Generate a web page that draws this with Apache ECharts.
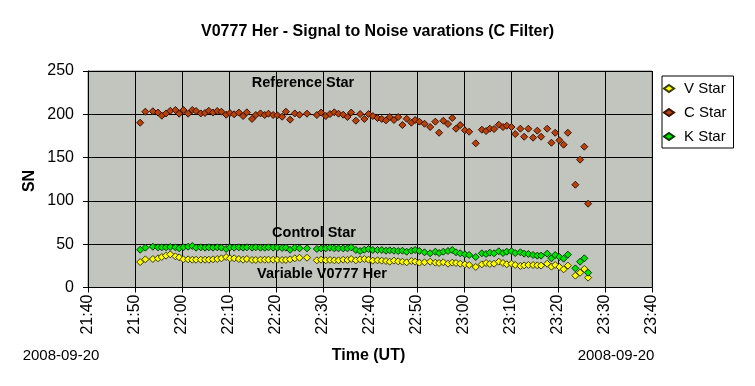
<!DOCTYPE html>
<html><head><meta charset="utf-8">
<script src="https://cdn.jsdelivr.net/npm/echarts@6/dist/echarts.min.js"></script>
<style>html,body{margin:0;padding:0;background:#fff}#c{width:755px;height:386px}</style>
</head><body><div id="c"></div>
<script>
// Observation times in minutes after 00:00 UT (2008-09-20)
const obsMinutes = [
  1311.1, 1312.2, 1313.8, 1314.9, 1315.7, 1316.6, 1317.5, 1318.6, 1319.4, 1320.3,
  1321.3, 1322.2, 1323.0, 1324.0, 1324.9, 1325.7, 1326.6, 1327.5, 1328.4, 1329.4,
  1330.2, 1331.1, 1332.1, 1333.0, 1333.8, 1334.9, 1335.7, 1336.7, 1337.6, 1338.4,
  1339.4, 1340.3, 1341.3, 1342.1, 1343.0, 1344.0, 1345.0, 1346.6,
  1348.7, 1349.6, 1350.6, 1351.5, 1352.4, 1353.3, 1354.3, 1355.2, 1356.0, 1357.0,
  1357.9, 1358.8, 1359.7, 1360.6, 1361.6, 1362.5, 1363.4, 1364.2, 1365.1, 1366.0,
  1366.9, 1367.8, 1368.8, 1369.6, 1370.5, 1371.6, 1372.8, 1373.9, 1374.7, 1375.6,
  1376.6, 1377.5, 1378.3, 1379.2, 1380.2, 1381.1, 1382.5,
  1383.8, 1384.7, 1385.5, 1386.4, 1387.4, 1388.3, 1389.1, 1390.1, 1390.9, 1392.0,
  1392.8, 1393.7, 1394.7, 1395.6, 1396.4, 1397.7, 1398.6, 1399.4, 1400.3, 1401.2,
  1402.1, 1403.7, 1404.7, 1405.6, 1406.4
];
const vStar = [
  29.4, 32.5, 32.9, 33.7, 35.2, 36.8, 38.3, 36.0, 34.8, 32.5,
  32.5, 32.1, 32.1, 32.1, 32.1, 32.1, 32.5, 32.9, 33.7, 35.2,
  33.7, 33.7, 32.9, 32.1, 32.9, 31.8, 31.8, 32.1, 32.1, 32.1,
  32.1, 32.1, 31.8, 31.8, 32.5, 33.7, 34.4, 34.4,
  31.4, 32.1, 31.4, 31.8, 31.4, 31.4, 32.1, 31.8, 32.9, 31.4,
  32.5, 32.9, 32.1, 31.0, 31.4, 31.0, 30.6, 29.8, 31.0, 30.2,
  29.8, 29.1, 30.6, 29.8, 28.7, 29.1, 29.8, 28.7, 28.3, 29.1,
  27.5, 28.7, 28.3, 27.5, 26.8, 26.0, 23.7,
  26.8, 28.3, 27.2, 27.5, 29.8, 28.3, 26.8, 27.5, 26.0, 24.9,
  25.6, 26.0, 26.0, 25.6, 25.3, 27.5, 24.1, 26.0, 23.7, 21.0,
  25.3, 13.7, 17.1, 21.4, 11.4
];
const cStar = [
  190.3, 203.0, 203.5, 202.0, 198.4, 201.0, 204.0, 205.0, 200.7, 205.0,
  200.7, 205.0, 203.8, 201.0, 201.5, 204.0, 202.0, 203.8, 203.0, 199.5,
  201.5, 200.0, 202.0, 198.0, 202.3, 194.6, 199.2, 201.0, 199.2, 200.7,
  199.2, 198.8, 197.2, 203.0, 193.8, 201.0, 199.5, 200.7,
  199.2, 202.0, 198.0, 200.3, 202.3, 200.7, 199.5, 196.9, 202.0, 192.6,
  200.3, 194.6, 200.3, 198.0, 195.7, 194.6, 193.0, 196.9, 193.4, 196.9,
  187.6, 194.9, 190.3, 193.4, 191.5, 189.1, 185.3, 191.5, 178.7, 192.6,
  188.8, 195.7, 183.4, 187.6, 181.5, 179.9, 166.5,
  182.2, 180.7, 183.4, 183.0, 188.0, 185.3, 186.8, 185.3, 177.2, 183.4,
  174.1, 183.4, 173.0, 181.1, 174.1, 183.4, 167.2, 178.7, 170.0, 164.9,
  178.7, 118.7, 147.6, 162.6, 96.8
];
const kStar = [
  43.6, 46.0, 47.1, 46.4, 46.4, 46.4, 46.8, 46.4, 45.2, 46.4,
  47.1, 47.9, 46.0, 46.4, 46.0, 46.4, 46.0, 46.4, 46.0, 44.5,
  46.4, 46.0, 46.4, 46.0, 46.4, 46.0, 46.4, 46.0, 46.0, 46.4,
  46.0, 46.0, 45.6, 46.0, 43.6, 46.0, 45.2, 45.2,
  44.5, 45.2, 45.2, 46.0, 45.2, 45.2, 45.2, 45.2, 46.4, 43.3,
  42.1, 43.6, 44.5, 43.3, 43.3, 43.3, 42.5, 42.9, 42.5, 42.1,
  42.5, 41.3, 42.5, 43.3, 42.1, 40.6, 39.5, 41.3, 39.8, 41.3,
  42.1, 43.3, 40.6, 39.5, 38.3, 37.5, 35.2,
  39.5, 38.7, 40.2, 39.5, 41.8, 39.8, 41.3, 41.8, 39.8, 40.6,
  39.1, 38.7, 37.5, 36.8, 36.8, 39.1, 33.7, 37.5, 35.2, 33.3,
  37.9, 22.1, 29.8, 33.7, 17.1
];
const seriesNames = ['V Star', 'C Star', 'K Star'];
const xMinMinutes = 1300, xMaxMinutes = 1420, xStepMinutes = 10;
const yMin = 0, yMax = 250, yStep = 50;
const dateLabel = '2008-09-20';

const FONT = 'Arial, "Liberation Sans", sans-serif';
function hhmm(v) {
  const m = Math.round(v);
  const h = Math.floor(m / 60), mm = m % 60;
  return h + ':' + (mm < 10 ? '0' : '') + mm;
}
function pairs(vals) { return obsMinutes.map((t, i) => [t, vals[i]]); }
function txt(text, x, y, size, bold, extra) {
  return Object.assign({
    type: 'text', x: x, y: y, z: 50,
    style: {
      text: text, fill: '#000', fontFamily: FONT, fontSize: size,
      fontWeight: bold ? 'bold' : 'normal',
      align: 'center', verticalAlign: 'middle',
      textAlign: 'center', textVerticalAlign: 'middle'
    }
  }, extra || {});
}

const chart = echarts.init(document.getElementById('c'), null, {renderer: 'canvas'});
chart.setOption({
  animation: false,
  backgroundColor: '#ffffff',
  title: {
    text: 'V0777 Her - Signal to Noise varations (C Filter)',
    left: 'center', top: 23.5, padding: 0,
    textStyle: {fontFamily: FONT, fontSize: 16, fontWeight: 'bold', color: '#000'}
  },
  legend: {
    orient: 'vertical', left: 662, top: 76,
    padding: [5, 7, 4, 1],
    itemWidth: 10, itemHeight: 7, itemGap: 9,
    borderColor: '#000', borderWidth: 1, backgroundColor: '#fff',
    icon: 'diamond',
    data: seriesNames,
    textStyle: {fontFamily: FONT, fontSize: 15, color: '#000', padding: [0, 0, 0, 5]}
  },
  grid: {
    left: 88, right: 103, top: 71, bottom: 98.5,
    show: true, backgroundColor: '#C2C4BE', borderColor: '#808080', borderWidth: 1
  },
  xAxis: {
    type: 'value', min: xMinMinutes, max: xMaxMinutes, interval: xStepMinutes,
    axisLine: {show: true, onZero: false, lineStyle: {color: '#000', width: 1}},
    axisTick: {show: true, length: 5, lineStyle: {color: '#000'}},
    axisLabel: {rotate: 90, margin: 7, fontSize: 16, fontFamily: FONT, color: '#000', formatter: hhmm},
    splitLine: {show: true, lineStyle: {color: '#000', width: 1}}
  },
  yAxis: {
    type: 'value', min: yMin, max: yMax, interval: yStep,
    axisLine: {show: true, lineStyle: {color: '#000', width: 1}},
    axisTick: {show: true, length: 5, lineStyle: {color: '#000'}},
    axisLabel: {margin: 14, fontSize: 16, fontFamily: FONT, color: '#000'},
    splitLine: {show: true, lineStyle: {color: '#000', width: 1}}
  },
  graphic: [
    txt('Reference Star', 303, 82.5, 14.5, true),
    txt('Control Star', 314, 232.5, 14.5, true),
    txt('Variable V0777 Her', 322, 273.5, 14.5, true),
    txt(dateLabel, 61, 356, 15, false),
    txt(dateLabel, 616, 356, 15, false),
    txt('Time (UT)', 368.5, 356, 16, true),
    txt('SN', 30, 181, 16, true, {rotation: Math.PI / 2})
  ],
  series: [
    {name: seriesNames[0], type: 'scatter', symbol: 'diamond', symbolSize: 7, data: pairs(vStar),
     itemStyle: {color: '#FFFF00', borderColor: '#3a3a00', borderWidth: 1, opacity: 1}},
    {name: seriesNames[1], type: 'scatter', symbol: 'diamond', symbolSize: 7, data: pairs(cStar),
     itemStyle: {color: '#B8420E', borderColor: '#3a1200', borderWidth: 1, opacity: 1}},
    {name: seriesNames[2], type: 'scatter', symbol: 'diamond', symbolSize: 7, data: pairs(kStar),
     itemStyle: {color: '#00E600', borderColor: '#003a00', borderWidth: 1, opacity: 1}}
  ]
});
</script>
</body></html>
